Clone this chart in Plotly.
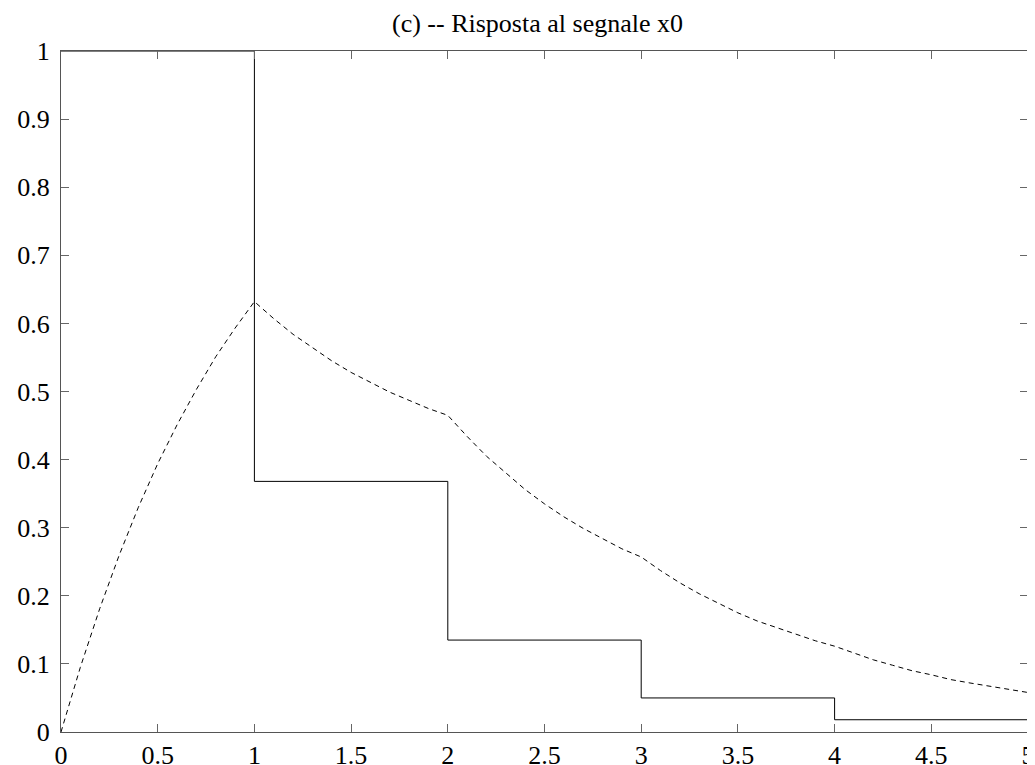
import plotly.graph_objects as go

# Step input signal x0 (value held over each unit interval)
step_t = [0, 1, 2, 3, 4, 5]
step_y = [1.0, 0.368, 0.135, 0.050, 0.018, 0.018]

# System response (dashed curve), read at 0.1 steps
resp_t = [round(i * 0.1, 1) for i in range(51)]
resp_y = [
    0.000, 0.095, 0.181, 0.259, 0.330, 0.394, 0.451, 0.503, 0.551, 0.593, 0.632,
    0.607, 0.584, 0.564, 0.545, 0.528, 0.513, 0.499, 0.487, 0.475, 0.465,
    0.434, 0.405, 0.380, 0.356, 0.335, 0.316, 0.299, 0.284, 0.269, 0.257,
    0.237, 0.219, 0.203, 0.189, 0.175, 0.163, 0.153, 0.143, 0.134, 0.126,
    0.116, 0.106, 0.098, 0.090, 0.084, 0.077, 0.072, 0.067, 0.062, 0.058,
]

x_ticks = [0, 0.5, 1, 1.5, 2, 2.5, 3, 3.5, 4, 4.5, 5]
y_ticks = [0, 0.1, 0.2, 0.3, 0.4, 0.5, 0.6, 0.7, 0.8, 0.9, 1]

fig = go.Figure()
fig.add_trace(go.Scatter(x=step_t, y=step_y, mode="lines", line_shape="hv",
                         line=dict(color="black", width=1), showlegend=False,
                         cliponaxis=False))
fig.add_trace(go.Scatter(x=resp_t, y=resp_y, mode="lines",
                         line=dict(color="black", width=1, dash="5px,4px"), showlegend=False))

fam = "Liberation Serif, Times New Roman, serif"
font = dict(family=fam, size=26, color="black")
axis_common = dict(showgrid=False, zeroline=False, showline=True, linecolor="#555555",
                   linewidth=1, mirror="ticks", ticks="inside", ticklen=8,
                   tickcolor="#666666", tickfont=font)

fig.update_layout(
    width=1035, height=765,
    margin=dict(l=53, r=15, t=43, b=41, autoexpand=False),
    paper_bgcolor="white", plot_bgcolor="white",
    title=dict(text="(c) -- Risposta al segnale x0", x=0.5116, xanchor="center",
               y=0.980, yanchor="middle", font=dict(family=fam, size=26, color="black")),
    xaxis=dict(range=[0, 5], tickvals=x_ticks, ticktext=[str(v) for v in x_ticks],
               ticklabelstandoff=0, **axis_common),
    yaxis=dict(range=[0, 1], tickvals=y_ticks, ticktext=[str(v) for v in y_ticks],
               ticklabelstandoff=5, **axis_common),
)

fig.write_html("out.html")
